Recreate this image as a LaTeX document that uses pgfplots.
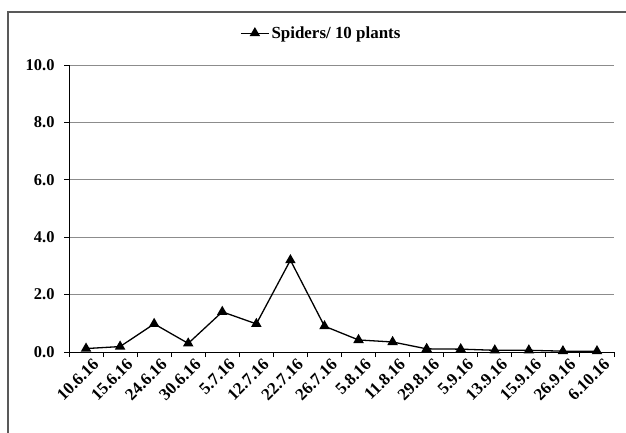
\documentclass[border=0pt]{standalone}
\usepackage{pgfplots}
\pgfplotsset{compat=1.18}
\usepackage{fontspec}
\setmainfont{Liberation Serif}
\newcommand{\tl}[1]{\fontsize{17}{19}\selectfont\bfseries #1}
\begin{document}
\begin{tikzpicture}[x=1bp,y=1bp]
\path[use as bounding box] (0,0) rectangle (626,-432);
\draw[line width=2bp, black!65] (8,-440) -- (8,-12) -- (640,-12);
\begin{axis}[
  at={(69bp,-352bp)}, anchor=south west,
  scale only axis, width=545bp, height=287bp,
  xmin=-0.5, xmax=15.5, ymin=0, ymax=10,
  axis lines=left, axis line style={-, black, line width=1bp},
  yticklabel style={font=\fontsize{16.5}{18}\selectfont\bfseries},
  xtick={0,...,15},
  xticklabels={\tl{10.6.16},\tl{15.6.16},\tl{24.6.16},\tl{30.6.16},\tl{5.7.16},\tl{12.7.16},\tl{22.7.16},\tl{26.7.16},\tl{5.8.16},\tl{11.8.16},\tl{29.8.16},\tl{5.9.16},\tl{13.9.16},\tl{15.9.16},\tl{26.9.16},\tl{6.10.16}},
  major x tick style={draw=none},
  minor xtick={-0.5,0.5,...,15.5},
  minor x tick style={black, line width=1bp},
  minor tick length=5bp,
  major tick length=5bp,
  tick align=outside,
  ytick={0,2,...,10},
  y tick style={black, line width=1bp},
  ymajorgrids, grid style={black!45, line width=0.9bp},
  yticklabel shift=6bp,
  yticklabel style={/pgf/number format/.cd, fixed, fixed zerofill, precision=1, assume math mode=true},
  xticklabel style={rotate=45, anchor=north east, inner sep=1bp, xshift=5bp, yshift=-3bp},
  legend style={at={(0.463,1.111)}, anchor=center, draw=none, fill=none,
    font=\fontsize{17}{19}\selectfont\bfseries},
  legend image code/.code={\draw[#1, mark repeat=2, mark phase=2] plot coordinates {(0bp,0bp)(14bp,0bp)(28bp,0bp)};},
  clip=false,
]
\addplot[black, line width=1.3bp, mark=triangle*, mark size=4.8bp, mark options={solid}] coordinates {
(0,0.12) (1,0.19) (2,0.98) (3,0.30) (4,1.40) (5,0.98) (6,3.20) (7,0.90)
(8,0.42) (9,0.35) (10,0.11) (11,0.10) (12,0.06) (13,0.06) (14,0.03) (15,0.03)
};
\addlegendentry{Spiders/ 10 plants}
\end{axis}
\end{tikzpicture}
\end{document}
